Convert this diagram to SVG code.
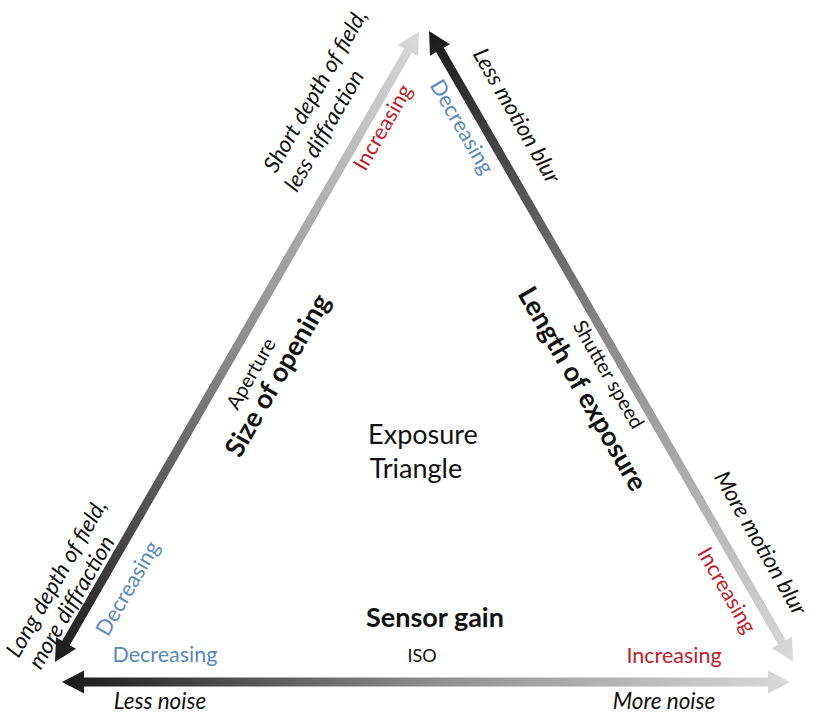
<svg xmlns="http://www.w3.org/2000/svg" width="817" height="715" viewBox="0 0 817 715">
<style>
text{font-family:Lato,"Open Sans","Noto Sans",sans-serif;fill:#111}
.it{font-style:italic;font-size:22.5px}
.red{fill:#c0202a;font-size:21.5px}
.blue{fill:#5a88bd;font-size:21.5px}
.bold{font-weight:bold;font-size:27px}
.sm{font-size:20px}
.c{text-anchor:middle}
</style>
<defs>
<linearGradient id="g" gradientUnits="userSpaceOnUse" x1="0" y1="0" x2="728" y2="0">
<stop offset="0" stop-color="#1a1a1a"/>
<stop offset="0.5" stop-color="#8c8c8c"/>
<stop offset="1" stop-color="#d9d9d9"/>
</linearGradient>
<path id="arr" d="M0,0 L22,-11.5 L22,-4.4 L706,-4.4 L706,-11.5 L728,0 L706,11.5 L706,4.4 L22,4.4 L22,11.5 Z"/>
</defs>
<g id="connectors">
<use href="#arr" fill="url(#g)" transform="translate(55,662) rotate(-60)"/>
<use href="#arr" fill="url(#g)" transform="translate(429,31) rotate(60)"/>
<use href="#arr" fill="url(#g)" transform="translate(62,682)"/>
</g>
<g id="center">
<text class="c" x="423" y="444" font-size="27">Exposure</text>
<text class="c" x="416" y="478" font-size="27">Triangle</text>
</g>
<g id="aperture">
<text class="it" transform="translate(276,174) rotate(-60)">Short depth of field,</text>
<text class="it" transform="translate(297,193) rotate(-60)">less diffraction</text>
<text class="c red" transform="translate(389,131) rotate(-60)">Increasing</text>
<text class="c sm" transform="translate(257,377) rotate(-60)">Aperture</text>
<text class="c bold" transform="translate(285.5,380) rotate(-60)">Size of opening</text>
<text class="c it" transform="translate(63,582) rotate(-60)">Long depth of field,</text>
<text class="c it" transform="translate(78,606) rotate(-60)">more diffraction</text>
<text class="c blue" transform="translate(134,592) rotate(-60)">Decreasing</text>
</g>
<g id="shutter">
<text class="c it" transform="translate(510,119.5) rotate(60)">Less motion blur</text>
<text class="c blue" transform="translate(455.5,130.5) rotate(60)">Decreasing</text>
<text class="c sm" transform="translate(602.5,378) rotate(60)">Shutter speed</text>
<text class="c bold" transform="translate(574.5,393.5) rotate(60)">Length of exposure</text>
<text class="c it" transform="translate(754,547) rotate(60)" font-size="22px">More motion blur</text>
<text class="c red" transform="translate(720.5,594) rotate(60)">Increasing</text>
</g>
<g id="iso">
<text class="c bold" x="435" y="627">Sensor gain</text>
<text class="c" x="422" y="662" font-size="18">ISO</text>
<text class="c blue" x="165" y="662">Decreasing</text>
<text class="c red" x="674" y="663">Increasing</text>
<text class="c it" x="160" y="709">Less noise</text>
<text class="c it" x="664" y="709">More noise</text>
</g>
</svg>
